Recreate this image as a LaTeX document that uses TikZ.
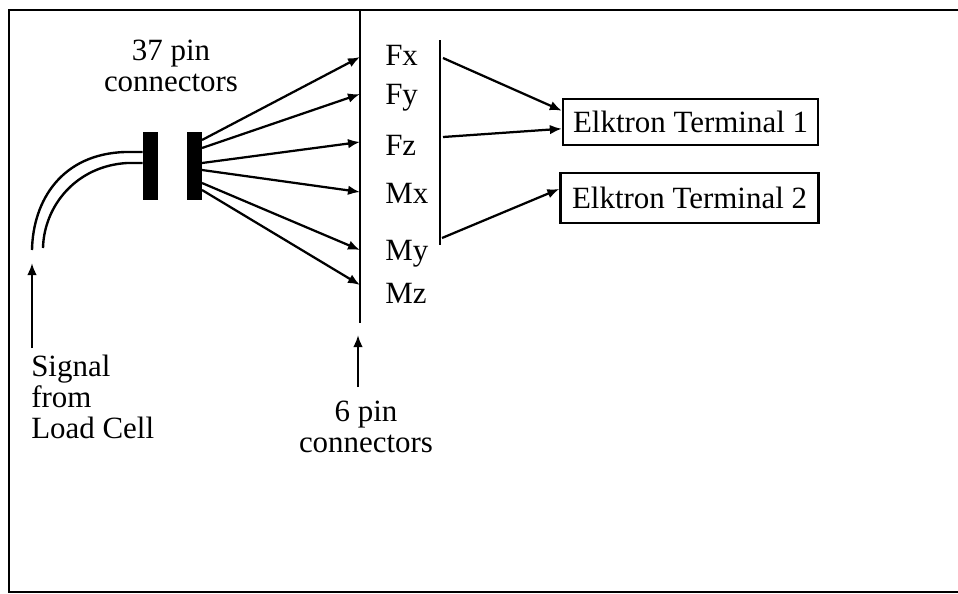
\documentclass[tikz,border=0pt]{standalone}
\usepackage{fontspec}
\setmainfont{Liberation Serif}
\usepackage{tikz}
\usetikzlibrary{arrows.meta}
\tikzstyle{txt} = [font=\fontsize{22}{22}\selectfont, inner sep=0pt]
\tikzstyle{frame} = [line width=1.2pt]
\tikzstyle{strip} = [line width=1.6pt]
\tikzstyle{wire} = [line width=1.6pt, -{Latex[length=3mm, width=2.4mm]}]
\tikzstyle{cable} = [line width=1.7pt]
\tikzstyle{plug} = [rectangle, fill=black, minimum width=0.375cm, minimum height=1.7cm, inner sep=0pt]
\tikzstyle{termbox} = [rectangle, draw=black, line width=1.6pt, txt, minimum height=1.15cm, minimum width=6.375cm]

\begin{document}
\begin{tikzpicture}[x=0.025cm, y=-0.025cm]
\useasboundingbox (0,0) rectangle (958,593);

% open frame (no right side)
\draw[frame] (958,10) -- (9,10) -- (9,592) -- (958,592);

% 37 pin connectors: plug halves and cable
\node[txt, align=center, anchor=base] (pin37) at (171,91) {37 pin\\connectors};
\node[plug] (plugL) at (150.5,166) {};
\node[plug] (plugR) at (194.5,166) {};
\draw[cable] (plugL.west |- 0,152) -- (125,152) .. controls (62,154) and (33,200) .. (32,250);
\draw[cable] (plugL.west |- 0,163) -- (127,163) .. controls (76,166) and (44,206) .. (43,248);

% Signal from load cell
\coordinate (sigtip) at (32,263);
\coordinate (sigtail) at (32,348);
\node[txt, align=left, anchor=base west] (signal) at (31,438) {Signal\\from\\Load Cell};
\draw[wire] (sigtail) -- (sigtip);

% 6 pin strip
\coordinate (striptop) at (360,10);
\coordinate (stripbot) at (360,323);
\draw[strip] (striptop) -- (stripbot);
\coordinate (pintip) at (358,335);
\coordinate (pintail) at (358,387);
\draw[wire] (pintail) -- (pintip);
\node[txt, align=center, anchor=base] (pin6) at (366,452) {6 pin\\connectors};

% Channel labels
\node[txt, anchor=base west] (fx) at (385,65) {Fx};
\node[txt, anchor=base west] (fy) at (385,104) {Fy};
\node[txt, anchor=base west] (fz) at (385,155) {Fz};
\node[txt, anchor=base west] (mx) at (385,203) {Mx};
\node[txt, anchor=base west] (my) at (385,260) {My};
\node[txt, anchor=base west] (mz) at (385,303) {Mz};

% Fan-out, plug to strip
\coordinate (o1) at (202,140);
\coordinate (o2) at (202,148);
\coordinate (o3) at (202,163);
\coordinate (o4) at (202,170);
\coordinate (o5) at (202,183);
\coordinate (o6) at (202,190);
\coordinate (i1) at (360,57);
\coordinate (i2) at (360,94);
\coordinate (i3) at (360,142);
\coordinate (i4) at (360,192);
\coordinate (i5) at (360,250);
\coordinate (i6) at (360,285);
\draw[wire] (o1) -- (i1);
\draw[wire] (o2) -- (i2);
\draw[wire] (o3) -- (i3);
\draw[wire] (o4) -- (i4);
\draw[wire] (o5) -- (i5);
\draw[wire] (o6) -- (i6);

% Bus to terminals
\coordinate (bustop) at (440,40);
\coordinate (busbot) at (440,245);
\draw[strip] (bustop) -- (busbot);
\node[termbox] (term1) at (690.5,122) {Elktron Terminal 1};
\node[termbox, minimum height=1.25cm, minimum width=6.45cm] (term2) at (689.5,198) {Elktron Terminal 2};
\coordinate (b1) at (443,58);
\coordinate (b2) at (443,137);
\coordinate (b3) at (442,238);
\draw[wire] (b1) -- (term1.175);
\draw[wire] (b2) -- (term1.183);
\draw[wire] (b3) -- (term2.176);
\end{tikzpicture}
\end{document}
